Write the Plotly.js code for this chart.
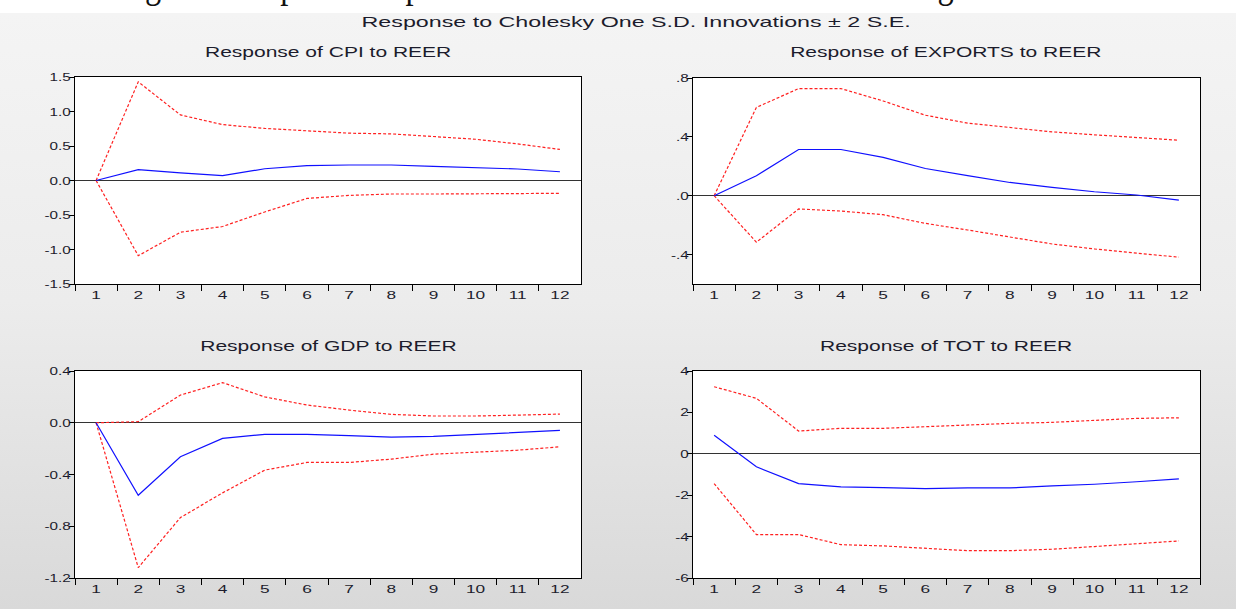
<!DOCTYPE html>
<html>
<head>
<meta charset="utf-8">
<script src="https://cdn.plot.ly/plotly-3.0.1.min.js"></script>
<style>
  html, body { margin: 0; padding: 0; }
  #wrap { position: relative; width: 1236px; height: 609px; overflow: hidden;
          background: linear-gradient(to bottom, #ffffff 0px, #ffffff 13px, #f4f4f4 13px, #ececec 300px, #d9d9d9 609px); }
  #topstrip { position: absolute; left: 0; top: 0; width: 1236px; height: 13px; overflow: hidden; background: #ffffff; }
  #topstrip span { position: absolute; top: -36px; left: 118px; white-space: nowrap; transform-origin: 0 0;
          font-family: "Liberation Serif", "DejaVu Serif", serif; font-size: 40px; line-height: 40px; color: #111; }
  #chart { position: absolute; left: 0; top: 0; width: 1236px; height: 609px; }
</style>
</head>
<body>
<div id="wrap">
  <div id="chart"></div>
  <div id="topstrip"><span id="toptext">Figure 6: Impulse Response Function to Real Effective Exchange Rate Shock</span></div>
</div>
<script>
const periods = ['1','2','3','4','5','6','7','8','9','10','11','12'];

const cpiResp  = [0.00, 0.157, 0.11, 0.07, 0.17, 0.215, 0.225, 0.225, 0.205, 0.186, 0.167, 0.127];
const cpiUpper = [0.00, 1.43, 0.95, 0.81, 0.755, 0.716, 0.686, 0.676, 0.637, 0.598, 0.53, 0.45];
const cpiLower = [0.00, -1.09, -0.75, -0.667, -0.456, -0.26, -0.216, -0.196, -0.196, -0.196, -0.196, -0.186];

const expResp  = [0.00, 0.136, 0.314, 0.314, 0.26, 0.185, 0.136, 0.09, 0.056, 0.027, 0.005, -0.03];
const expUpper = [0.00, 0.60, 0.728, 0.728, 0.644, 0.547, 0.493, 0.463, 0.434, 0.414, 0.398, 0.377];
const expLower = [0.00, -0.316, -0.09, -0.104, -0.129, -0.188, -0.233, -0.278, -0.328, -0.362, -0.391, -0.418];

const gdpResp  = [0.00, -0.56, -0.263, -0.121, -0.09, -0.09, -0.10, -0.111, -0.106, -0.09, -0.075, -0.059];
const gdpUpper = [0.00, 0.008, 0.214, 0.31, 0.20, 0.137, 0.098, 0.065, 0.052, 0.052, 0.059, 0.067];
const gdpLower = [0.00, -1.12, -0.733, -0.542, -0.366, -0.307, -0.307, -0.281, -0.243, -0.23, -0.212, -0.186];

const totResp  = [0.90, -0.63, -1.44, -1.60, -1.63, -1.68, -1.65, -1.65, -1.55, -1.47, -1.35, -1.21];
const totUpper = [3.24, 2.68, 1.10, 1.23, 1.23, 1.32, 1.39, 1.47, 1.52, 1.60, 1.71, 1.74];
const totLower = [-1.44, -3.90, -3.90, -4.39, -4.45, -4.58, -4.68, -4.68, -4.61, -4.48, -4.35, -4.21];

const cpiTicks = [1.5, 1.0, 0.5, 0.0, -0.5, -1.0, -1.5];
const cpiTickText = ['1.5', '1.0', '0.5', '0.0', '-0.5', '-1.0', '-1.5'];
const expTicks = [0.8, 0.4, 0.0, -0.4];
const expTickText = ['.8', '.4', '.0', '-.4'];
const gdpTicks = [0.4, 0.0, -0.4, -0.8, -1.2];
const gdpTickText = ['0.4', '0.0', '-0.4', '-0.8', '-1.2'];
const totTicks = [4, 2, 0, -2, -4, -6];
const totTickText = ['4', '2', '0', '-2', '-4', '-6'];

const mainTitle = 'Response to Cholesky One S.D. Innovations \u00B1 2 S.E.';
const panelTitles = ['Response of CPI to REER', 'Response of EXPORTS to REER',
                     'Response of GDP to REER', 'Response of TOT to REER'];

const W = 1236, H = 609;
const FONT = '"Liberation Sans", Arial, sans-serif';
const TXT = '#1c1c2c';

const panels = [
  {resp: cpiResp, up: cpiUpper, lo: cpiLower, range: [-1.5, 1.5], tv: cpiTicks, tt: cpiTickText,
   px: [75, 581], py: [77, 284]},
  {resp: expResp, up: expUpper, lo: expLower, range: [-0.6, 0.8], tv: expTicks, tt: expTickText,
   px: [693, 1200], py: [78, 284]},
  {resp: gdpResp, up: gdpUpper, lo: gdpLower, range: [-1.2, 0.4], tv: gdpTicks, tt: gdpTickText,
   px: [75, 581], py: [371, 578]},
  {resp: totResp, up: totUpper, lo: totLower, range: [-6, 4], tv: totTicks, tt: totTickText,
   px: [693, 1200], py: [371, 578]}
];

const data = [];
const layout = {
  width: W, height: H,
  margin: {l: 0, r: 0, t: 0, b: 0},
  paper_bgcolor: 'rgba(0,0,0,0)',
  plot_bgcolor: '#ffffff',
  showlegend: false,
  font: {family: FONT, color: TXT, size: 12},
  annotations: []
};

panels.forEach((p, i) => {
  const n = i + 1;
  const xa = 'x' + (n === 1 ? '' : n);
  const ya = 'y' + (n === 1 ? '' : n);
  const redLine = {color: '#ff2020', width: 1.2, dash: '3px,2px'};
  data.push({x: periods, y: p.up, type: 'scatter', mode: 'lines', line: redLine, xaxis: xa, yaxis: ya, hoverinfo: 'skip'});
  data.push({x: periods, y: p.lo, type: 'scatter', mode: 'lines', line: redLine, xaxis: xa, yaxis: ya, hoverinfo: 'skip'});
  data.push({x: periods, y: p.resp, type: 'scatter', mode: 'lines', line: {color: '#1010ff', width: 1.2}, xaxis: xa, yaxis: ya});

  const xd = [p.px[0] / W, p.px[1] / W];
  const yd = [1 - p.py[1] / H, 1 - p.py[0] / H];
  layout['xaxis' + (n === 1 ? '' : n)] = {
    domain: xd, anchor: ya, type: 'category', tickson: 'boundaries',
    range: [-0.5, 11.5],
    ticks: 'outside', ticklen: 6, tickcolor: '#000', tickwidth: 1,
    showline: true, mirror: true, linecolor: '#000', linewidth: 1,
    showgrid: false, zeroline: false, fixedrange: true,
    tickfont: {family: FONT, size: 11.5, color: TXT}
  };
  layout['yaxis' + (n === 1 ? '' : n)] = {
    domain: yd, anchor: xa, range: p.range,
    tickvals: p.tv, ticktext: p.tt,
    ticks: 'outside', ticklen: 5, tickcolor: '#000', tickwidth: 1,
    ticklabelstandoff: -4,
    showline: true, mirror: true, linecolor: '#000', linewidth: 1,
    showgrid: false, zeroline: true, zerolinecolor: '#333333', zerolinewidth: 1,
    fixedrange: true,
    tickfont: {family: FONT, size: 11.5, color: TXT}
  };
  layout.annotations.push({
    text: panelTitles[i], xref: 'paper', yref: 'paper',
    x: (xd[0] + xd[1]) / 2, y: 1 - (i < 2 ? 52 : 346) / H,
    xanchor: 'center', yanchor: 'middle', showarrow: false,
    font: {family: FONT, size: 14, color: TXT}
  });
});

layout.annotations.push({
  text: mainTitle, xref: 'paper', yref: 'paper', x: 636 / W, y: 1 - 22 / H,
  xanchor: 'center', yanchor: 'middle', showarrow: false,
  font: {family: FONT, size: 15, color: TXT}
});

function stretch(t, f) {
  if (t.getAttribute('data-stretched')) return;
  const L = t.getComputedTextLength();
  if (L > 0) {
    t.setAttribute('textLength', (L * f).toFixed(2));
    t.setAttribute('lengthAdjust', 'spacingAndGlyphs');
    t.setAttribute('data-stretched', '1');
  }
}

function stretchAll(gd) {
  gd.querySelectorAll('text.annotation-text').forEach(t => {
    const isMain = t.textContent.indexOf('Cholesky') >= 0;
    stretch(t, isMain ? 1.55 : 1.5);
  });
  gd.querySelectorAll('svg text').forEach(t => {
    if (t.classList.contains('annotation-text')) return;
    const cls = (t.parentNode && t.parentNode.getAttribute('class')) || '';
    if (/^x\d*tick$/.test(cls)) stretch(t, 1.5);
    else if (/^y\d*tick$/.test(cls)) stretch(t, 1.32);
  });
}

Plotly.newPlot('chart', data, layout, {displayModeBar: false, staticPlot: true}).then(gd => {
  stretchAll(gd);
  const span = document.getElementById('toptext');
  const w = span.getBoundingClientRect().width;
  span.style.transform = 'scaleX(' + (1007 / w).toFixed(4) + ')';
});
</script>
</body>
</html>
